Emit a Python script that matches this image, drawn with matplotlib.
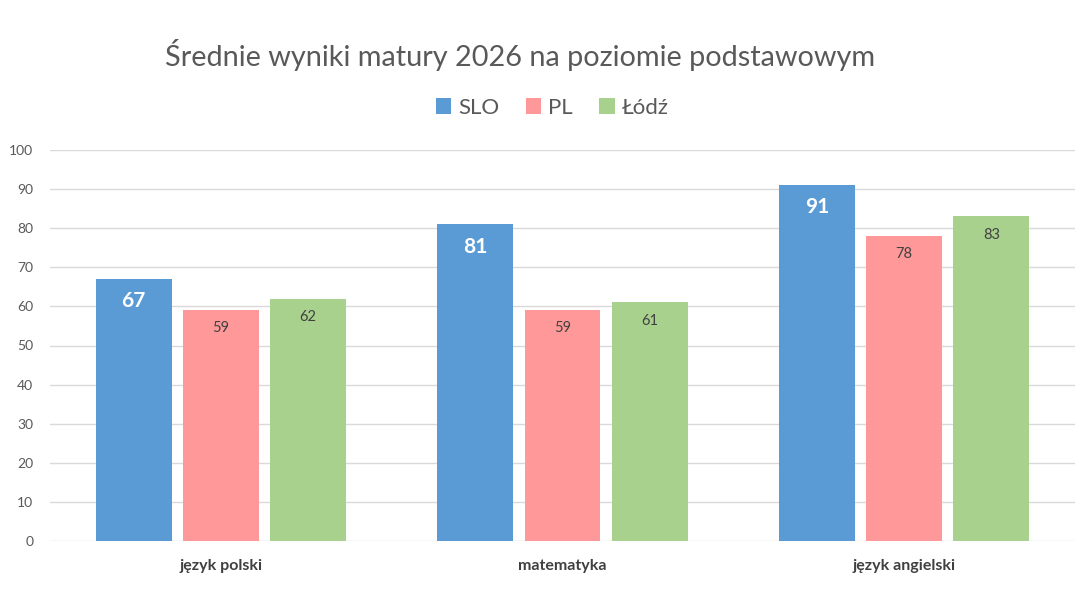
import numpy as np
import matplotlib
matplotlib.use("Agg")
import matplotlib.pyplot as plt

categories = ["język polski", "matematyka", "język angielski"]
series_names = ["SLO", "PL", "Łódź"]
slo = [67, 81, 91]
pl = [59, 59, 78]
lodz = [62, 61, 83]
yticks = [0, 10, 20, 30, 40, 50, 60, 70, 80, 90, 100]

COLORS = ["#5B9BD5", "#FF9999", "#A9D18E"]
GRID = "#D9D9D9"
TEXT = "#595959"

plt.rcParams["font.family"] = ["Lato", "DejaVu Sans"]

fig = plt.figure(figsize=(10.9, 6.1), dpi=100)
ax = fig.add_axes([50 / 1090, 1 - 541 / 610, 1025 / 1090, 391 / 610])

x = np.arange(len(categories))
width = 0.222
step = 0.255

for i, (name, vals) in enumerate(zip(series_names, [slo, pl, lodz])):
    bars = ax.bar(x + (i - 1) * step, vals, width, color=COLORS[i],
                  label=name, zorder=3)
    for b, v in zip(bars, vals):
        if i == 0:
            ax.annotate(str(v), (b.get_x() + b.get_width() / 2, v),
                        xytext=(0, -16), textcoords="offset points",
                        ha="center", va="center", fontsize=15,
                        fontweight="bold", color="white", zorder=4)
        else:
            ax.annotate(str(v), (b.get_x() + b.get_width() / 2, v),
                        xytext=(0, -13), textcoords="offset points",
                        ha="center", va="center", fontsize=10.5,
                        color="#404040", zorder=4)

ax.set_xlim(-0.5, 2.5)
ax.set_ylim(0, 100)
ax.set_yticks(yticks)
ax.grid(axis="y", color=GRID, linewidth=1, zorder=0)
for s in ax.spines.values():
    s.set_visible(False)
ax.tick_params(axis="both", length=0)
ax.tick_params(axis="y", colors=TEXT, labelsize=10, pad=12)
ax.set_xticks(x)
ax.set_xticklabels(categories, fontsize=11.5, fontweight="bold", color="#404040")
ax.tick_params(axis="x", pad=13)

fig.text(520 / 1090, 1 - 55 / 610, "Średnie wyniki matury 2026 na poziomie podstawowym",
         ha="center", va="center", fontsize=20.8, color=TEXT)

fig.legend(loc="center", bbox_to_anchor=(552 / 1090, 1 - 108 / 610),
           ncol=3, frameon=False, fontsize=16, handlelength=0.7,
           handleheight=0.7, handletextpad=0.3, columnspacing=1.2,
           labelcolor=TEXT)

fig.savefig("out.png", dpi=100, facecolor="white")
